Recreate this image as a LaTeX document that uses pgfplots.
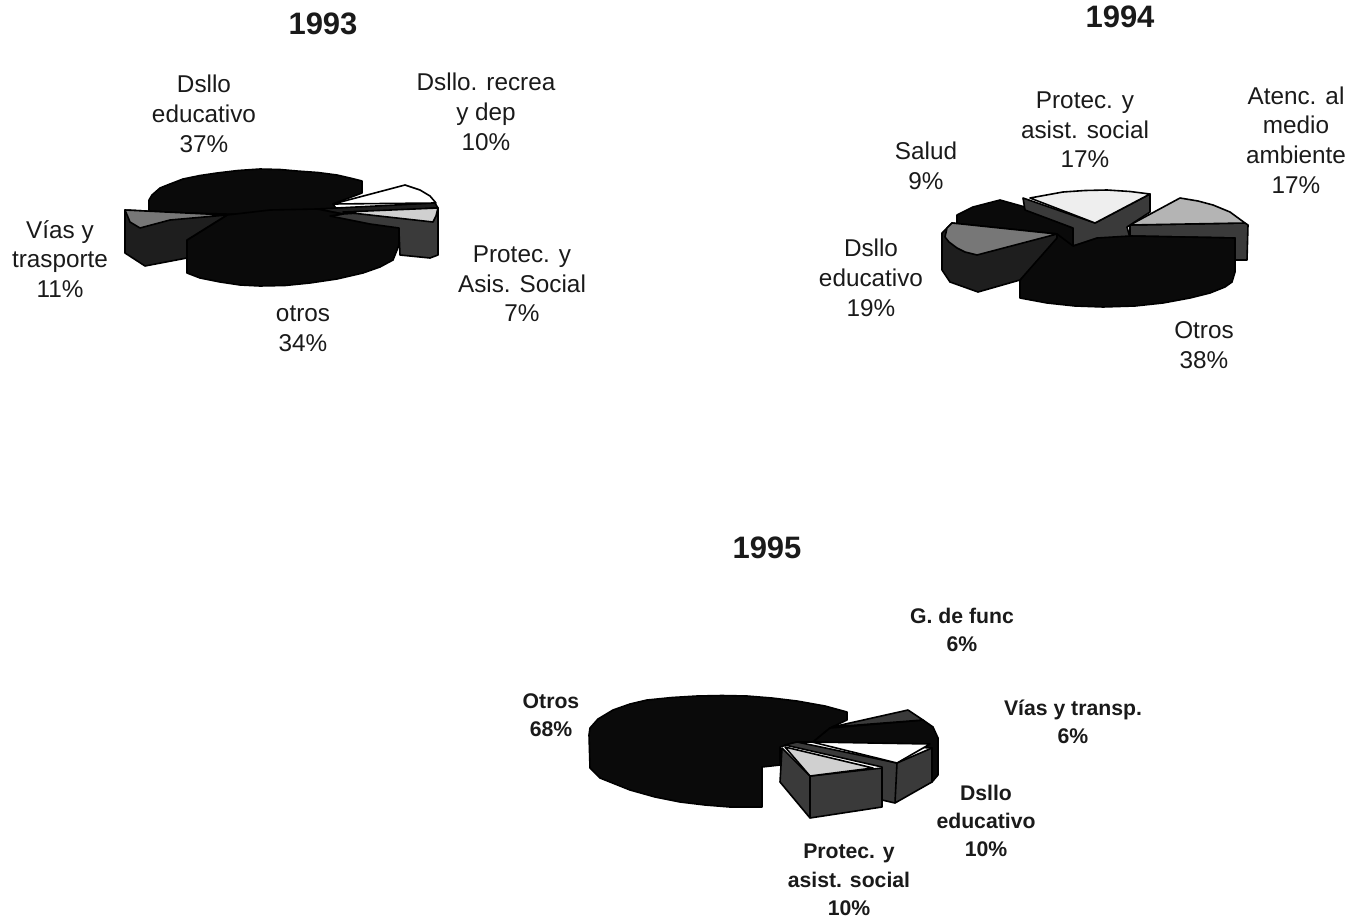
\documentclass[border=0pt]{standalone}
\usepackage{fontspec}
\setmainfont{Liberation Sans}
\usepackage{pgfplots}
\pgfplotsset{compat=1.18}

\definecolor{ink}{HTML}{1A1A1A}
\definecolor{pieblack}{HTML}{0A0A0A}
\definecolor{sidedark}{HTML}{1E1E1E}
\definecolor{sidemid}{HTML}{3A3A3A}
\definecolor{facegrey}{HTML}{B4B4B4}
\definecolor{facelight}{HTML}{D0D0D0}
\definecolor{facepale}{HTML}{EEEEEE}
\definecolor{facemott}{HTML}{777777}

% one polygon of a pie, corners in picture pixels
\newcommand{\poly}[2]{\addplot[fill=#1,draw=black,line width=1.6pt,line join=round] coordinates {#2} -- cycle;}
\newcommand{\lab}[3]{\node[text=ink,align=center,inner sep=0pt,font=\fontsize{24.3}{29.7}\selectfont] at (axis cs:#1,#2) {#3};}
\newcommand{\labb}[3]{\node[text=ink,align=center,inner sep=0pt,font=\bfseries\fontsize{21.2}{28.4}\selectfont] at (axis cs:#1,#2) {#3};}
\newcommand{\ttl}[3]{\node[text=ink,inner sep=0pt,font=\bfseries\fontsize{31}{36}\selectfont] at (axis cs:#1,#2) {#3};}

\begin{document}
\begin{tikzpicture}
\begin{axis}[
  at={(0,0)}, anchor=south west,
  scale only axis, width=1350pt, height=918pt,
  xmin=0, xmax=1350, ymin=0, ymax=918,
  y dir=reverse, hide axis, clip=false
]
% keeps the whole page, hide axis alone crops it to the content
\path (axis cs:0,0) -- (axis cs:1350,918);

% 1993
\poly{pieblack}{(149,212) (149,200) (152,195) (160,188) (170,184) (183,179) (200,175.5) (217,173) (238,170.5) (260,169) (280,169.5) (297,171) (318,172.5) (337,175) (350,178) (362,181) (362,193) (333,204) (340,214) (300,216)}
\poly{sidedark}{(317,209) (435,203) (438,208) (343,214)}
\poly{white}{(333,204) (405,185) (420,190) (430,196) (436,203)}
\poly{sidemid}{(320,218) (343,214) (438,208) (438,255) (430,258) (400,255) (399,232)}
\poly{facelight}{(343,212) (438,208) (436,216) (433,222)}
\poly{pieblack}{(187,258) (187,273) (200,278) (220,282) (240,285) (260,286) (285,285.5) (310,283) (337,279) (363,273) (380,267) (393,260) (399,245) (399,228) (370,224) (330,216) (343,214) (317,209) (270,210) (227,215) (187,240)}
\poly{sidedark}{(125,210) (125,253) (145,266) (187,258) (187,240) (227,215)}
\poly{facemott}{(125,210) (227,215) (170,220) (140,228) (130,222)}

% 1994
\poly{pieblack}{(957,224) (957,215) (973,207) (1000,200) (1025,207) (1073,228) (1073,246) (1000,236)}
\poly{sidemid}{(1130,225) (1245,223) (1248,225) (1247,260) (1235,260) (1235,238) (1130,236)}
\poly{facegrey}{(1130,225) (1180,198) (1198,201) (1213,205) (1230,212) (1245,223)}
\poly{sidemid}{(1023,198) (1095,223) (1150,194) (1150,212) (1127,227) (1130,238) (1097,240) (1073,246) (1073,228) (1025,210)}
\poly{facepale}{(1030,198) (1063,192) (1085,190.5) (1107,190) (1130,191.5) (1150,194) (1095,223)}
\poly{pieblack}{(1020,280) (1020,298) (1047,303) (1075,306) (1103,307) (1135,306) (1163,303) (1190,298) (1210,293) (1225,287) (1232,282) (1235,272) (1235,238) (1130,236) (1097,238) (1073,246) (1057,234)}
\poly{sidedark}{(942,233) (942,270) (950,282) (978,292) (1020,280) (1057,238) (1057,234) (952,223)}
\poly{facemott}{(952,223) (1057,234) (977,255) (965,252) (957,248) (949,242) (945,237) (947,228)}

% 1995
\poly{pieblack}{(589,735) (590,768) (600,778) (630,790) (655,797) (680,802) (705,805) (730,807) (762,807) (762,767) (780,765) (780,747) (797,742) (813,742) (830,728) (847,720) (847,712) (825,706) (797,701) (772,698) (747,696) (722,695.5) (697,696) (672,697.5) (647,700) (630,704) (613,710) (598,719) (590,728)}
\poly{pieblack}{(830,728) (923,720) (933,727) (938,738) (938,775) (932,782) (932,748) (813,742)}
\poly{sidemid}{(832,727) (908,710) (923,720)}
\poly{sidemid}{(785,745) (797,742) (897,763) (932,748) (932,782) (895,803) (882,800) (882,767)}
\addplot[draw=black,line width=1.6pt] coordinates {(897,763) (895,803)};
\poly{white}{(812,742) (930,744) (897,763)}
\poly{sidemid}{(782,748) (780,782) (810,818) (882,807) (882,768) (810,776)}
\addplot[draw=black,line width=1.6pt] coordinates {(810,776) (810,818)};
\poly{facelight}{(785,747) (873,768) (810,776)}

% titles
\ttl{323}{24}{1993}
\ttl{1120}{17}{1994}
\ttl{767}{548}{1995}

% labels 1993
\lab{204}{114}{Dsllo\\educativo\\37\%}
\lab{486}{112}{Dsllo. recrea\\y dep\\10\%}
\lab{60}{259}{Vías y\\trasporte\\11\%}
\lab{522}{284}{Protec. y\\Asis. Social\\7\%}
\lab{303}{329}{otros\\34\%}

% labels 1994
\lab{1085}{130}{Protec. y\\asist. social\\17\%}
\lab{1296}{140}{Atenc. al\\medio\\ambiente\\17\%}
\lab{926}{166}{Salud\\9\%}
\lab{871}{278}{Dsllo\\educativo\\19\%}
\lab{1204}{345}{Otros\\38\%}

% labels 1995
\labb{962}{630}{G. de func\\6\%}
\labb{1073}{722}{Vías y transp.\\6\%}
\labb{551}{715}{Otros\\68\%}
\labb{986}{821}{Dsllo\\educativo\\10\%}
\labb{849}{880}{Protec. y\\asist. social\\10\%}

\end{axis}
\end{tikzpicture}
\end{document}
